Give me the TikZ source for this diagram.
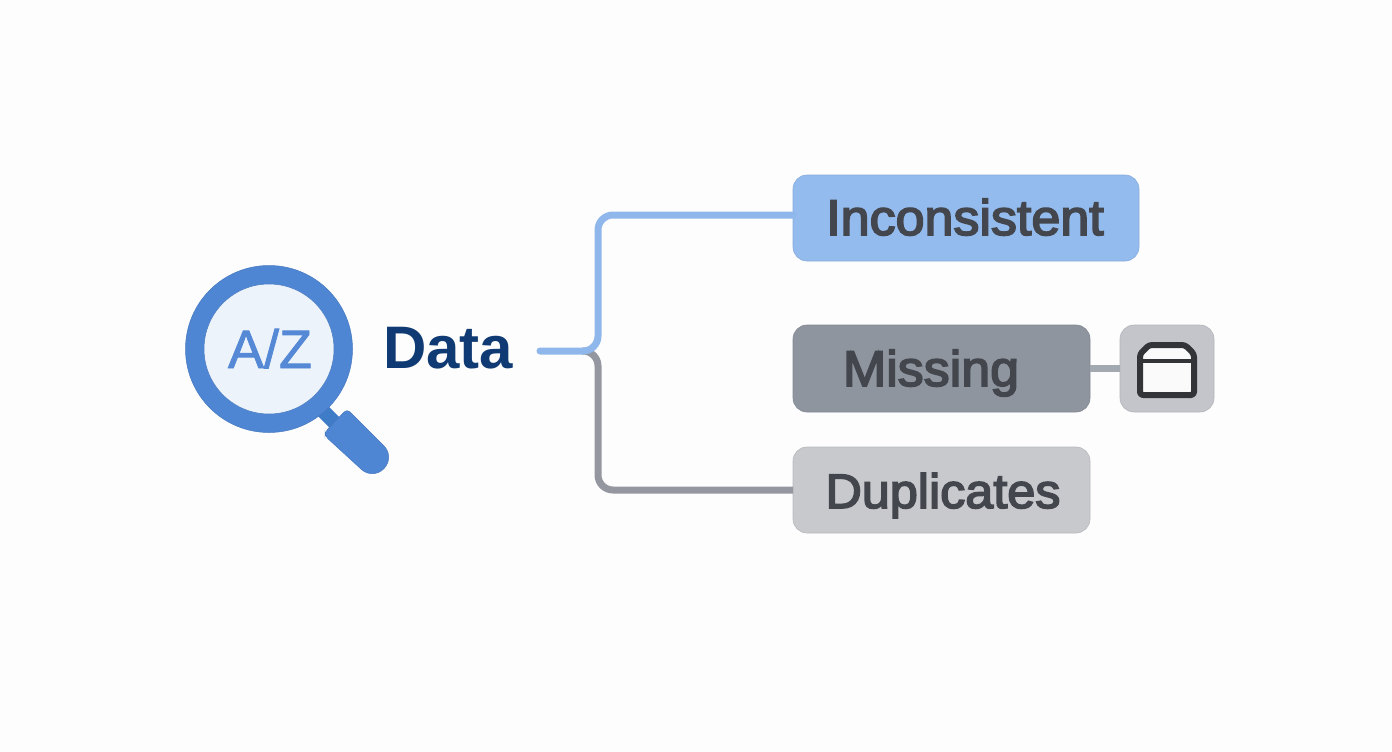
\documentclass[tikz,border=0pt]{standalone}
\usepackage{fontspec}
\setmainfont{Liberation Sans}
\newfontfamily\medfont[FakeBold=3.4,FakeStretch=1.04]{Liberation Sans}
\newfontfamily\azfont[FakeBold=1.5]{Liberation Sans}
\definecolor{bgc}{HTML}{FDFDFD}
\definecolor{ringc}{HTML}{4F86D4}
\definecolor{lensc}{HTML}{EDF3FB}
\definecolor{neckc}{HTML}{3F7CC8}
\definecolor{ringedge}{HTML}{4679BF}
\definecolor{azc}{HTML}{5589D6}
\definecolor{datac}{HTML}{0F3A73}
\definecolor{bluec}{HTML}{94BBEE}
\definecolor{blueline}{HTML}{8FB7EC}
\definecolor{darkc}{HTML}{8E959E}
\definecolor{greyline}{HTML}{94979F}
\definecolor{lightc}{HTML}{C8C9CD}
\definecolor{iconbg}{HTML}{C3C5CA}
\definecolor{iconin}{HTML}{FAFAFB}
\definecolor{txtc}{HTML}{44464E}
\definecolor{iconc}{HTML}{333438}
\definecolor{linkc}{HTML}{A2A9B1}
\tikzset{
  x=1pt,y=-1pt,
  box/.style={rounded corners=14pt,inner sep=0pt,outer sep=0pt,draw=#1!92!black,line width=0.6pt,fill=#1},
  boxlabel/.style={anchor=base,inner sep=0pt,outer sep=0pt,text=txtc,font=\medfont\fontsize{50}{50}\selectfont},
  blink/.style={draw=blueline,line width=7pt,line cap=round,rounded corners=15pt},
  glink/.style={draw=greyline,line width=7pt,rounded corners=15pt},
}
\begin{document}
\begin{tikzpicture}
\useasboundingbox (0,0) rectangle (1392,752);
\fill[bgc] (0,0) rectangle (1392,752);
% magnifier
\fill[neckc] (316,414) -- (326,404) -- (348,426) -- (338,436) -- cycle;
\fill[ringc,draw=ringedge,line width=0.5pt]
  (325,436) [rounded corners=4pt] -- (325,432) -- (347,409) [rounded corners=15.5pt] -- (395,457) -- (373,480) [rounded corners=4pt] -- cycle;
\node[circle,minimum size=167pt,inner sep=0pt,fill=ringc,draw=ringedge,line width=0.5pt] (ring) at (269,349) {};
\node[circle,minimum size=130pt,inner sep=0pt,fill=lensc,draw=ringedge,line width=0.5pt] (lens) at (269,349) {};
\node[anchor=base,inner sep=0pt,font=\azfont\fontsize{54}{54}\selectfont,text=azc] (az) at (270,368) {A/Z};
\node[anchor=base west,inner sep=0pt,font=\bfseries\fontsize{60}{60}\selectfont,text=datac] (data) at (383,368) {Data};
% boxes
\node[box=bluec,minimum width=346pt,minimum height=86pt] (inc) at (966,218) {};
\node[box=darkc,minimum width=297pt,minimum height=87pt] (mis) at (941.5,368.5) {};
\node[box=lightc,minimum width=297pt,minimum height=86pt] (dup) at (941.5,490) {};
\node[box=iconbg,minimum width=94pt,minimum height=87pt] (icn) at (1167,368.5) {};
\node[boxlabel] (inct) at (965,235) {Inconsistent};
\node[boxlabel] (mist) at (931,386) {Missing};
\node[boxlabel,font=\medfont\fontsize{48.4}{48.4}\selectfont] (dupt) at (943,508) {Duplicates};
% connectors
\coordinate (st) at (540,351);
\coordinate (jn) at (582,351);
\coordinate (tb) at (793,215);
\coordinate (bb) at (793,490);
\draw[glink] (jn) -- (598,351) -- (598,490) -- (bb);
\draw[blink] (st) -- (598,351) -- (598,215) -- (tb);
\draw[draw=linkc,line width=7pt] (mis.east) -- (icn.west);
% icon
\draw[iconc,fill=iconin,line width=6pt,line join=round,rounded corners=3pt]
  (1140,354) -- (1149,345) -- (1185,345) -- (1194,354) -- (1194,395) -- (1140,395) -- cycle;
\draw[iconc,line width=4pt] (1140,361) -- (1194,361);
\end{tikzpicture}
\end{document}
